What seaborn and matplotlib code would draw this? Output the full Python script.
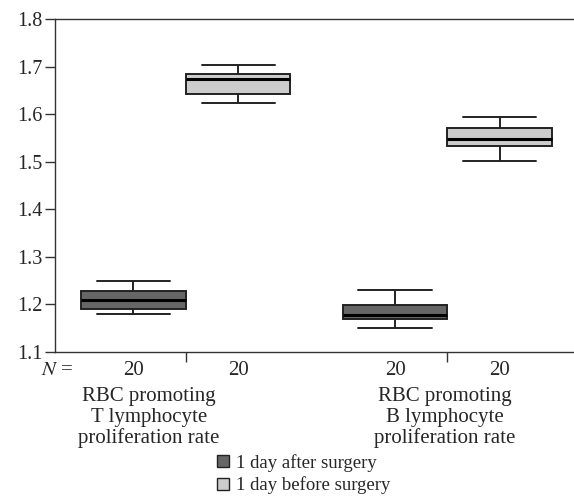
import pandas as pd
import numpy as np
import seaborn as sns
import matplotlib.pyplot as plt
from matplotlib.lines import Line2D

# five-number summaries (min, q1, median, q3, max)
t_after = [1.180, 1.189, 1.209, 1.228, 1.249]
t_before = [1.623, 1.643, 1.673, 1.685, 1.703]
b_after = [1.149, 1.168, 1.177, 1.199, 1.230]
b_before = [1.502, 1.533, 1.548, 1.571, 1.593]

measures = ["T", "B"]
timepoints = ["1 day after surgery", "1 day before surgery"]
n_counts = [20, 20, 20, 20]
group_labels = ["RBC promoting\nT lymphocyte\nproliferation rate",
                "RBC promoting\nB lymphocyte\nproliferation rate"]
y_ticks = [1.1, 1.2, 1.3, 1.4, 1.5, 1.6, 1.7, 1.8]

rows = []
for m, series in zip(measures, [(t_after, t_before), (b_after, b_before)]):
    for tp, vals in zip(timepoints, series):
        for v in vals:
            rows.append({"measure": m, "timepoint": tp, "rate": v})
df = pd.DataFrame(rows)

sns.set_style("white")
plt.rcParams['font.family'] = ['Liberation Serif', 'DejaVu Serif']

dark = "#666666"
light = "#cccccc"
edge = "#222222"

fig = plt.figure(figsize=(5.74, 4.97), dpi=100)
ax = fig.add_axes([55 / 574, 1 - 351.7 / 497, 518 / 574, 332.7 / 497])

sns.boxplot(data=df, x="measure", y="rate", hue="timepoint", order=measures,
            hue_order=timepoints, palette=[dark, light], whis=(0, 100),
            width=0.8, gap=0, linecolor=edge, linewidth=1.4, saturation=1,
            medianprops=dict(color="black", linewidth=2.2),
            capwidths=0.28, legend=False, ax=ax)

ax.set_xlim(-0.5, 1.48)
ax.set_ylim(1.1, 1.8)
ax.set_yticks(y_ticks)
ax.set_yticklabels([f"{t:.1f}" for t in y_ticks], fontsize=14.5)
ax.set_xticks([0, 1])
ax.set_xticklabels(["", ""])
ax.set_xlabel("")
ax.set_ylabel("")
ax.tick_params(axis="both", direction="out", length=7, width=1, color="#333333",
               left=True, bottom=True, pad=2)
for s in ["left", "bottom", "top"]:
    ax.spines[s].set_color("#333333")
    ax.spines[s].set_linewidth(1)
ax.spines["right"].set_visible(False)

# N counts under each box
box_pos = [-0.2, 0.2, 0.8, 1.2]
trans = ax.get_xaxis_transform()
for xp, n in zip(box_pos, n_counts):
    ax.text(xp, -0.058, str(n), transform=trans, ha="center", va="center",
            fontsize=15)
ax.text(-0.43, -0.058, "$N$ =", transform=trans, ha="right", va="center",
        fontsize=15, math_fontfamily="stix")

label_x = [-0.14, 0.99]
for xp, lab in zip(label_x, group_labels):
    ax.text(xp, -0.198, lab, transform=trans, ha="center", va="center",
            fontsize=15, linespacing=1.12)

handles = [Line2D([], [], marker="s", linestyle="none", markersize=8,
                  markerfacecolor=c, markeredgecolor=edge, markeredgewidth=1)
           for c in [dark, light]]
fig.legend(handles, timepoints, loc="upper left",
           bbox_to_anchor=(216 / 574, 1 - 454 / 497), frameon=False,
           fontsize=13.5, handlelength=0.7, handletextpad=0.35,
           labelspacing=0.25, borderpad=0, borderaxespad=0)

fig.savefig("out.png", dpi=100)
